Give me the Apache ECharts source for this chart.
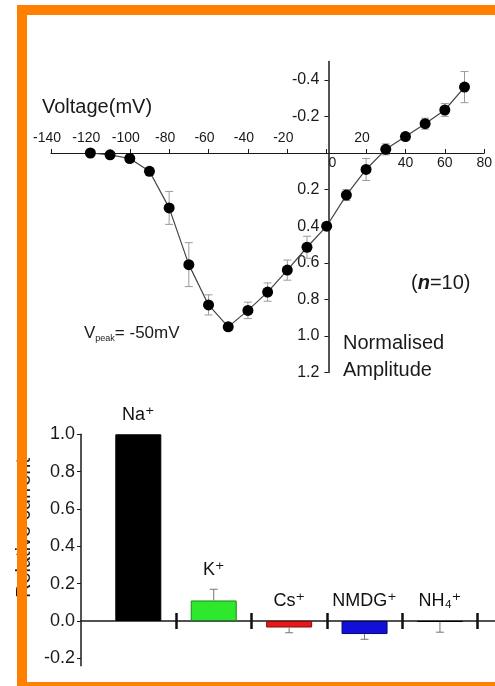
<!DOCTYPE html>
<html><head><meta charset="utf-8">
<script src="https://cdn.jsdelivr.net/npm/echarts@6/dist/echarts.min.js"></script>
<style>html,body{margin:0;padding:0;background:#fff}#c{width:495px;height:686px}</style>
</head><body><div id="c"></div>
<script>
// ---- Top panel: I-V relation ----
const voltage = [-120,-110,-100,-90,-80,-70,-60,-50,-40,-30,-20,-10,0,10,20,30,40,50,60,70];
const amplitude = [0.0,0.01,0.03,0.10,0.30,0.61,0.83,0.95,0.86,0.76,0.64,0.515,0.40,0.23,0.09,-0.02,-0.09,-0.16,-0.235,-0.36];
const amplitudeErr = [0.01,0.01,0.01,0.02,0.09,0.12,0.055,0.02,0.045,0.05,0.055,0.06,0.02,0.03,0.06,0.03,0.02,0.03,0.035,0.085];
const xTickValues = [-140,-120,-100,-80,-60,-40,-20,0,20,40,60,80];
const xLabelsAbove = [-140,-120,-100,-80,-60,-40,-20,20];
const xLabelsBelow = [0,40,60,80];
const yTickValues = [-0.4,-0.2,0,0.2,0.4,0.6,0.8,1.0,1.2];
const yLabelValues = [-0.4,-0.2,0.2,0.4,0.6,0.8,1.0,1.2];

// ---- Bottom panel: relative current ----
const ions = ['Na⁺','K⁺','Cs⁺','NMDG⁺','NH₄⁺'];
const relCurrent = [1.0,0.11,-0.035,-0.07,-0.005];
const relErr = [0,0.06,0.028,0.028,0.055];
const barYTicks = [-0.2,0,0.2,0.4,0.6,0.8,1.0];

const barColors = ['#000000','#2ee82e','#e81818','#1010d8','#000000'];
const barBorders = ['#000000','#178a17','#8a0c0c','#08086a','#000000'];

const FONT = '"Liberation Sans", Arial, "DejaVu Sans", sans-serif';
const INK = '#1a1a1a';

const W = 495, H = 686;
const X_MIN = -140, X_MAX = 80, Y_MIN = -0.5, Y_MAX = 1.2;
const g0 = {left:51, right:8, top:61.5, bottom:313.4};
const g0w = W - g0.left - g0.right, g0h = H - g0.top - g0.bottom;
// place axes through the origin (x=0, y=0) of the top panel
const xAxisOffset = -g0h * (Y_MAX - 0) / (Y_MAX - Y_MIN);
const yAxisOffset = -g0w * (0 - X_MIN) / (X_MAX - X_MIN);

const chart = echarts.init(document.getElementById('c'), null, {renderer:'canvas'});

function errRender(oneSided) {
  return function (params, api) {
    const x = api.value(0);
    const a = api.coord([x, api.value(1)]);
    const b = api.coord([x, api.value(2)]);
    const cap = 4;
    const style = {stroke: oneSided ? '#777' : '#9a9a9a', lineWidth: 1};
    const kids = [
      {type:'line', shape:{x1:a[0],y1:a[1],x2:b[0],y2:b[1]}, style},
      {type:'line', shape:{x1:b[0]-cap,y1:b[1],x2:b[0]+cap,y2:b[1]}, style}
    ];
    if (!oneSided) kids.push({type:'line', shape:{x1:a[0]-cap,y1:a[1],x2:a[0]+cap,y2:a[1]}, style});
    return {type:'group', children:kids};
  };
}

const boundaryTicks = ions.map((_, i) => i + 0.5);

const option = {
  animation: false,
  backgroundColor: '#fff',
  textStyle: {fontFamily: FONT, color: INK},
  grid: [
    g0,
    {left:81, right:0, top:434.3, bottom:20.2}
  ],
  xAxis: [
    {type:'value', gridIndex:0, min:X_MIN, max:X_MAX, position:'bottom', offset:xAxisOffset,
     axisLine:{onZero:false, lineStyle:{color:INK, width:1.2}},
     axisTick:{inside:true, length:4, customValues:xTickValues, lineStyle:{color:INK}},
     axisLabel:{inside:true, margin:8, customValues:xLabelsAbove, fontSize:14, color:INK, fontFamily:FONT, padding:[0,8,0,0]},
     splitLine:{show:false}},
    {type:'value', gridIndex:0, min:X_MIN, max:X_MAX, position:'bottom', offset:xAxisOffset,
     axisLine:{show:false, onZero:false},
     axisTick:{show:false},
     axisLabel:{margin:3, customValues:xLabelsBelow, fontSize:14, color:INK, fontFamily:FONT,
       formatter: v => v === 0 ? '\u00a0\u00a0\u00a00' : String(v)},
     splitLine:{show:false}},
    {type:'value', gridIndex:1, min:-0.76, max:4.73, position:'bottom',
     axisLine:{onZero:true, onZeroAxisIndex:1, lineStyle:{color:INK, width:1.5}},
     axisTick:{inside:false, length:8, customValues:boundaryTicks, lineStyle:{color:'#111', width:2.5}},
     axisLabel:{show:false}, splitLine:{show:false}},
    {type:'value', gridIndex:1, min:-0.76, max:4.73, position:'bottom',
     axisLine:{show:true, onZero:true, onZeroAxisIndex:1, lineStyle:{opacity:0}},
     axisTick:{inside:true, length:8, customValues:boundaryTicks, lineStyle:{color:'#111', width:2.5}},
     axisLabel:{show:false}, splitLine:{show:false}}
  ],
  yAxis: [
    {type:'value', gridIndex:0, inverse:true, min:Y_MIN, max:Y_MAX, position:'left', offset:yAxisOffset,
     axisLine:{onZero:false, lineStyle:{color:INK, width:1.5}},
     axisTick:{customValues:yTickValues, length:4, lineStyle:{color:INK}},
     axisLabel:{customValues:yLabelValues, formatter: v => v.toFixed(1), fontSize:16, margin:9, color:INK, fontFamily:FONT},
     splitLine:{show:false}},
    {type:'value', gridIndex:1, min:-0.24, max:1.0,
     axisLine:{onZero:false, lineStyle:{color:INK, width:1.5}},
     axisTick:{customValues:barYTicks, length:4, lineStyle:{color:INK}},
     axisLabel:{customValues:barYTicks, formatter: v => v.toFixed(1), fontSize:18, margin:6, color:INK, fontFamily:FONT},
     splitLine:{show:false}}
  ],
  series: [
    {type:'custom', xAxisIndex:0, yAxisIndex:0, z:1,
     data: voltage.map((v,i) => [v, amplitude[i]-amplitudeErr[i], amplitude[i]+amplitudeErr[i]]),
     encode:{x:0, y:[1,2]}, renderItem: errRender(false)},
    {type:'line', xAxisIndex:0, yAxisIndex:0, z:3,
     data: voltage.map((v,i) => [v, amplitude[i]]),
     symbol:'circle', symbolSize:11,
     itemStyle:{color:'#000'}, lineStyle:{color:'#444', width:1.2}},
    {type:'bar', xAxisIndex:2, yAxisIndex:1, barWidth:46, z:2,
     data: relCurrent.map((v,i) => ({value:[i, v], itemStyle:{color:barColors[i], borderColor:barBorders[i], borderWidth:1}}))},
    {type:'custom', xAxisIndex:2, yAxisIndex:1, z:3,
     data: relCurrent.map((v,i) => [i, v, v >= 0 ? v + relErr[i] : v - relErr[i]]).filter((d,i) => relErr[i] > 0),
     encode:{x:0, y:[1,2]}, renderItem: errRender(true)},
    {type:'scatter', xAxisIndex:2, yAxisIndex:1, z:4,
     data: relCurrent.map((v,i) => [i, v >= 0 ? v + relErr[i] : 0]),
     symbolSize:1, itemStyle:{color:'transparent', opacity:1},
     label:{show:true, position:'top', distance:10, fontSize:18, color:'#111', opacity:1, fontFamily:FONT,
       formatter: p => ions[p.dataIndex]}}
  ],
  graphic: [
    {type:'text', x:42, y:107, z:50, style:{text:'Voltage(mV)', font:'20px ' + FONT, fill:INK, align:'left', verticalAlign:'middle'}},
    {type:'text', x:343, y:343, z:50, style:{text:'Normalised', font:'20px ' + FONT, fill:INK, align:'left', verticalAlign:'middle'}},
    {type:'text', x:343, y:370, z:50, style:{text:'Amplitude', font:'20px ' + FONT, fill:INK, align:'left', verticalAlign:'middle'}},
    {type:'text', x:411, y:283, z:50, style:{text:'{a|(}{b|n}{a|=10)}', fill:INK, align:'left', verticalAlign:'middle',
      rich:{a:{fontSize:20, fontFamily:FONT, fill:INK}, b:{fontSize:20, fontFamily:FONT, fontWeight:'bold', fontStyle:'italic', fill:INK}}}},
    {type:'text', x:84, y:333, z:50, style:{text:'{a|V}{b|peak}{a|= -50mV}', fill:INK, align:'left', verticalAlign:'middle',
      rich:{a:{fontSize:17, fontFamily:FONT, fill:INK, lineHeight:20}, b:{fontSize:9, fontFamily:FONT, fill:INK, verticalAlign:'bottom', lineHeight:20}}}},
    {type:'text', x:24, y:528, rotation:Math.PI/2, z:50, style:{text:'Relative current', font:'20px ' + FONT, fill:INK, align:'center', verticalAlign:'middle'}},
    {type:'rect', z:100, shape:{x:17, y:5, width:478, height:10}, style:{fill:'#ff7f00'}},
    {type:'rect', z:100, shape:{x:17, y:5, width:10, height:681}, style:{fill:'#ff7f00'}},
    {type:'rect', z:100, shape:{x:17, y:682, width:478, height:4}, style:{fill:'#ff7f00'}}
  ]
};
chart.setOption(option);
</script>
</body></html>
